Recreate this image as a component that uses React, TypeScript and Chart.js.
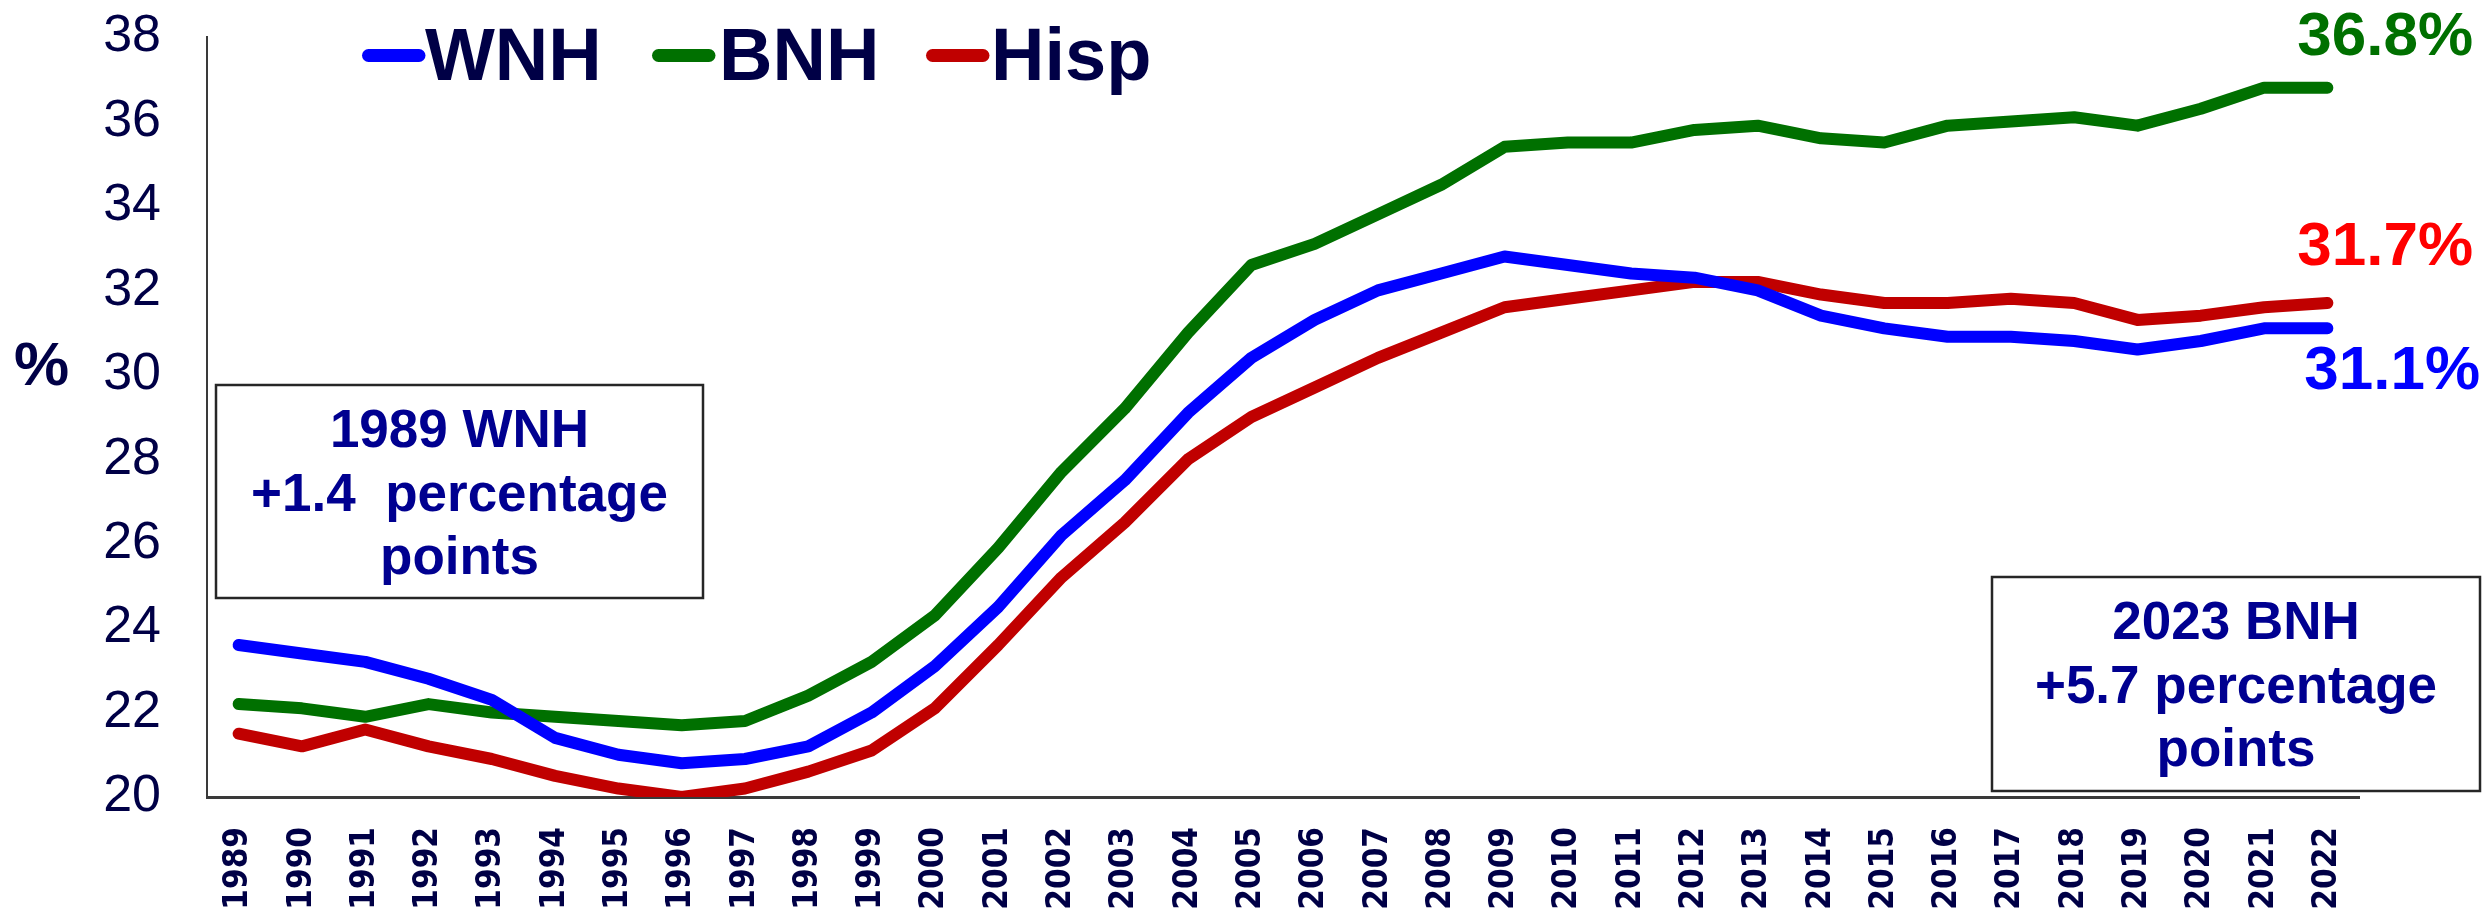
import React, { useEffect, useRef } from "react";
import { Chart, registerables } from "chart.js";

Chart.register(...registerables);

const years = [
  "1989", "1990", "1991", "1992", "1993", "1994", "1995", "1996", "1997", "1998",
  "1999", "2000", "2001", "2002", "2003", "2004", "2005", "2006", "2007", "2008",
  "2009", "2010", "2011", "2012", "2013", "2014", "2015", "2016", "2017", "2018",
  "2019", "2020", "2021", "2022",
];

const wnh = [
  23.6, 23.4, 23.2, 22.8, 22.3, 21.4, 21.0, 20.8, 20.9, 21.2,
  22.0, 23.1, 24.5, 26.2, 27.5, 29.1, 30.4, 31.3, 32.0, 32.4,
  32.8, 32.6, 32.4, 32.3, 32.0, 31.4, 31.1, 30.9, 30.9, 30.8,
  30.6, 30.8, 31.1, 31.1,
];

const bnh = [
  22.2, 22.1, 21.9, 22.2, 22.0, 21.9, 21.8, 21.7, 21.8, 22.4,
  23.2, 24.3, 25.9, 27.7, 29.2, 31.0, 32.6, 33.1, 33.8, 34.5,
  35.4, 35.5, 35.5, 35.8, 35.9, 35.6, 35.5, 35.9, 36.0, 36.1,
  35.9, 36.3, 36.8, 36.8,
];

const hisp = [
  21.5, 21.2, 21.6, 21.2, 20.9, 20.5, 20.2, 20.0, 20.2, 20.6,
  21.1, 22.1, 23.6, 25.2, 26.5, 28.0, 29.0, 29.7, 30.4, 31.0,
  31.6, 31.8, 32.0, 32.2, 32.2, 31.9, 31.7, 31.7, 31.8, 31.7,
  31.3, 31.4, 31.6, 31.7,
];

const seriesNames = ["WNH", "BNH", "Hisp"];
const seriesColors = ["#0000FF", "#007000", "#C00000"];
const endLabels = ["31.1%", "36.8%", "31.7%"];
const endLabelColors = ["#0000FF", "#007000", "#FF0000"];
const yMin = 20;
const yMax = 38;
const yStep = 2;
const yAxisTitle = "%";
const note1 = ["1989 WNH", "+1.4  percentage", "points"];
const note2 = ["2023 BNH", "+5.7 percentage", "points"];

const NAVY = "#000046";
const NOTE_BLUE = "#000090";
const SANS = "'Liberation Sans', Arial, sans-serif";

const overlayPlugin = {
  id: "overlay",
  afterDraw(chart: any) {
    const ctx = chart.ctx as CanvasRenderingContext2D;
    const xs = chart.scales.x;
    const ys = chart.scales.y;
    ctx.save();

    // Legend (inside plot, top-left)
    const legendPos = [
      { sx: 362, tx: 425 },
      { sx: 652, tx: 719 },
      { sx: 926, tx: 991 },
    ];
    ctx.font = `bold 74px ${SANS}`;
    ctx.textAlign = "left";
    ctx.textBaseline = "alphabetic";
    seriesNames.forEach((name, i) => {
      const p = legendPos[i];
      ctx.strokeStyle = seriesColors[i];
      ctx.lineWidth = 13;
      ctx.lineCap = "round";
      ctx.beginPath();
      ctx.moveTo(p.sx + 6.5, 55.5);
      ctx.lineTo(p.sx + 57, 55.5);
      ctx.stroke();
      ctx.fillStyle = NAVY;
      ctx.fillText(name, p.tx, 80);
    });

    // "%" axis label
    ctx.font = `bold 62px ${SANS}`;
    ctx.fillStyle = NAVY;
    ctx.fillText(yAxisTitle, 14, 385);

    // Note boxes
    const drawNote = (lines: string[], x0: number, y0: number, x1: number, y1: number, baselines: number[]) => {
      ctx.fillStyle = "#ffffff";
      ctx.fillRect(x0, y0, x1 - x0, y1 - y0);
      ctx.strokeStyle = "#262626";
      ctx.lineWidth = 2.5;
      ctx.strokeRect(x0, y0, x1 - x0, y1 - y0);
      ctx.font = `bold 53px ${SANS}`;
      ctx.fillStyle = NOTE_BLUE;
      ctx.textAlign = "center";
      lines.forEach((t, i) => ctx.fillText(t, (x0 + x1) / 2, baselines[i]));
      ctx.textAlign = "left";
    };
    drawNote(note1, 216, 385, 703, 598, [447, 511, 574]);
    drawNote(note2, 1992, 577, 2480, 791, [639, 703, 766]);

    // End-of-line value labels
    const series = [wnh, bnh, hisp];
    const offsets = [
      { dx: -23, dy: 61 },
      { dx: -30, dy: -33 },
      { dx: -30, dy: -38 },
    ];
    ctx.font = `bold 62px ${SANS}`;
    series.forEach((s, i) => {
      const last = s.length - 1;
      const px = xs.getPixelForValue(last);
      const py = ys.getPixelForValue(s[last]);
      ctx.fillStyle = endLabelColors[i];
      ctx.fillText(endLabels[i], px + offsets[i].dx, py + offsets[i].dy);
    });

    ctx.restore();
  },
};

export default function App() {
  const canvasRef = useRef<HTMLCanvasElement | null>(null);

  useEffect(() => {
    if (!canvasRef.current) return;
    const datasets = [wnh, bnh, hisp].map((data, i) => ({
      label: seriesNames[i],
      data,
      borderColor: seriesColors[i],
      backgroundColor: seriesColors[i],
      borderWidth: 12,
      pointRadius: 0,
      pointHoverRadius: 0,
      tension: 0,
      borderCapStyle: "round" as const,
      borderJoinStyle: "round" as const,
      clip: { left: 12, top: 12, right: 12, bottom: 0 },
    }));
    const chart = new Chart(canvasRef.current, {
      type: "line",
      data: { labels: years, datasets },
      options: {
        animation: false,
        responsive: true,
        maintainAspectRatio: false,
        layout: { padding: { top: 37, right: 132, left: 0, bottom: 0 } },
        plugins: {
          legend: { display: false },
          tooltip: { enabled: false },
          title: { display: false },
        },
        scales: {
          x: {
            type: "category",
            offset: true,
            grid: { display: false, drawTicks: false },
            border: { display: true, color: "#3a3a3a", width: 3 },
            ticks: {
              autoSkip: false,
              maxRotation: 90,
              minRotation: 90,
              padding: 30,
              color: NAVY,
              font: { family: "'DejaVu Sans Condensed', 'DejaVu Sans', Verdana, sans-serif", weight: "bold", size: 33 },
            },
            afterFit(scale: any) {
              scale.height = 117;
              scale.paddingLeft = 0;
              scale.paddingRight = 0;
            },
          },
          y: {
            min: yMin,
            max: yMax,
            grid: { display: false, drawTicks: false },
            border: { display: true, color: "#3a3a3a", width: 2 },
            ticks: {
              stepSize: yStep,
              padding: 46,
              color: NAVY,
              font: { family: SANS, size: 52 },
            },
            afterFit(scale: any) {
              scale.width = 207;
              scale.paddingTop = 0;
              scale.paddingBottom = 0;
            },
          },
        },
      },
      plugins: [overlayPlugin],
    });
    return () => chart.destroy();
  }, []);

  return (
    <div style={{ position: "fixed", left: 0, top: 0, width: 2491, height: 914, background: "#ffffff" }}>
      <canvas ref={canvasRef} />
    </div>
  );
}
